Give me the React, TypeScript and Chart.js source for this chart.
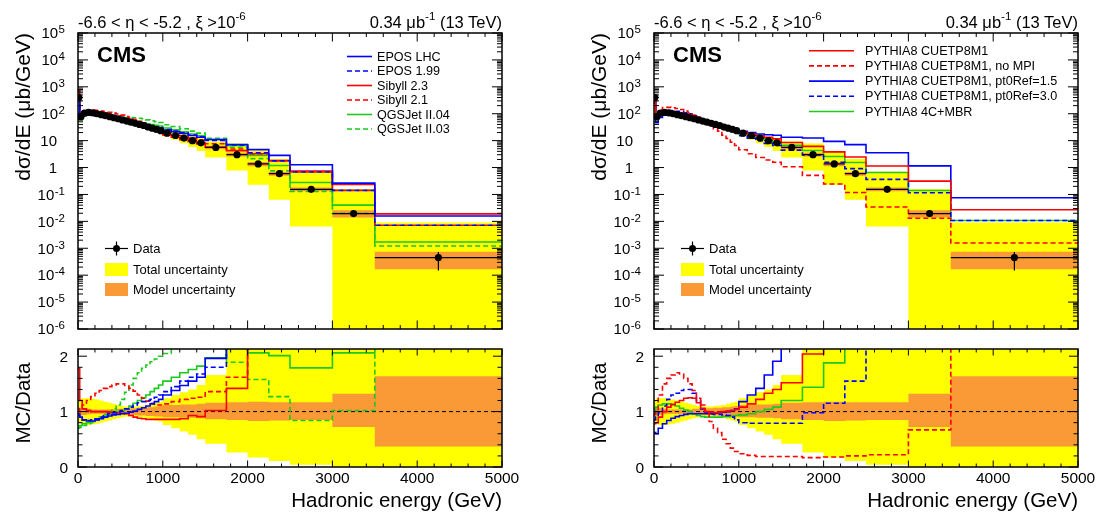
import React, { useEffect, useRef } from "react";
import { Chart, registerables } from "chart.js";

Chart.register(...registerables);

// ---------------- data ----------------
const binEdges = [0, 20, 50, 100, 150, 200, 250, 300, 350, 400, 450, 500, 550, 600, 650, 700, 750, 800, 850, 900, 950, 1000, 1100, 1200, 1300, 1400, 1500, 1750, 2000, 2250, 2500, 3000, 3500, 5000];

const dataValues = [400, 78, 105, 113, 108, 100, 92, 85, 78, 71, 65, 59, 53.5, 48.5, 44, 40, 36.5, 32, 29, 26, 23.5, 19, 15.5, 12.5, 10, 8.3, 5.6, 3.0, 1.36, 0.59, 0.155, 0.0195, 0.00045];
const dataStatDown = [0.05, 0.02, 0.02, 0.02, 0.02, 0.02, 0.02, 0.02, 0.02, 0.02, 0.02, 0.02, 0.02, 0.02, 0.02, 0.02, 0.02, 0.02, 0.02, 0.02, 0.02, 0.03, 0.03, 0.03, 0.04, 0.04, 0.05, 0.07, 0.09, 0.12, 0.15, 0.25, 0.67];
const dataStatUp = [0.05, 0.02, 0.02, 0.02, 0.02, 0.02, 0.02, 0.02, 0.02, 0.02, 0.02, 0.02, 0.02, 0.02, 0.02, 0.02, 0.02, 0.02, 0.02, 0.02, 0.02, 0.03, 0.03, 0.03, 0.04, 0.04, 0.05, 0.07, 0.09, 0.12, 0.15, 0.25, 0.62];

const totalUncLo = [0.8, 0.78, 0.76, 0.76, 0.77, 0.78, 0.8, 0.82, 0.84, 0.86, 0.88, 0.9, 0.91, 0.91, 0.91, 0.9, 0.89, 0.88, 0.86, 0.84, 0.82, 0.76, 0.7, 0.64, 0.58, 0.5, 0.42, 0.26, 0.17, 0.107, 0.042, 0.00001, 0.00001];
const totalUncHi = [1.2, 1.23, 1.24, 1.24, 1.23, 1.22, 1.2, 1.18, 1.16, 1.14, 1.12, 1.1, 1.09, 1.09, 1.09, 1.1, 1.11, 1.12, 1.14, 1.16, 1.18, 1.24, 1.3, 1.35, 1.4, 1.48, 1.66, 2.6, 3.0, 3.5, 4.5, 8, 20];
const modelUncLo = [0.92, 0.93, 0.94, 0.95, 0.96, 0.96, 0.96, 0.96, 0.96, 0.96, 0.95, 0.95, 0.95, 0.94, 0.94, 0.93, 0.93, 0.92, 0.92, 0.91, 0.91, 0.9, 0.9, 0.89, 0.89, 0.88, 0.86, 0.85, 0.83, 0.84, 0.85, 0.72, 0.37];
const modelUncHi = [1.08, 1.07, 1.06, 1.05, 1.04, 1.04, 1.04, 1.04, 1.04, 1.04, 1.05, 1.05, 1.05, 1.06, 1.06, 1.07, 1.07, 1.08, 1.08, 1.09, 1.1, 1.12, 1.12, 1.13, 1.13, 1.14, 1.16, 1.17, 1.18, 1.17, 1.17, 1.32, 1.64];

// MC / Data ratios (left panel)
const eposLhcRatio = [0.95, 0.9, 0.85, 0.83, 0.83, 0.85, 0.87, 0.9, 0.92, 0.94, 0.95, 0.96, 0.97, 0.99, 1.01, 1.04, 1.07, 1.1, 1.14, 1.18, 1.22, 1.3, 1.38, 1.47, 1.55, 1.62, 1.96, 2.4, 3.4, 4.8, 8.2, 13.5, 35];
const epos199Ratio = [0.95, 0.88, 0.85, 0.84, 0.85, 0.87, 0.9, 0.93, 0.96, 0.98, 1.0, 1.02, 1.05, 1.08, 1.12, 1.16, 1.18, 1.2, 1.22, 1.26, 1.3, 1.36, 1.45, 1.55, 1.62, 1.68, 1.8, 2.3, 2.6, 3.0, 4.4, 7.3, 16];
const sibyll23Ratio = [1.78, 1.2, 1.05, 1.02, 1.0, 1.0, 1.0, 1.0, 0.99, 0.98, 0.98, 0.97, 0.96, 0.93, 0.9, 0.88, 0.87, 0.86, 0.86, 0.86, 0.86, 0.86, 0.86, 0.87, 0.93, 0.91, 1.02, 1.42, 2.4, 3.1, 4.8, 12, 42];
const sibyll21Ratio = [1.0, 1.05, 1.12, 1.2, 1.27, 1.33, 1.38, 1.42, 1.45, 1.48, 1.5, 1.5, 1.47, 1.42, 1.37, 1.3, 1.24, 1.19, 1.15, 1.12, 1.12, 1.14, 1.18, 1.22, 1.24, 1.26, 1.36, 1.62, 2.4, 3.0, 4.4, 7.3, 16];
const qgsjet04Ratio = [0.72, 0.75, 0.78, 0.8, 0.82, 0.85, 0.88, 0.92, 0.95, 0.98, 1.0, 1.02, 1.05, 1.1, 1.15, 1.2, 1.25, 1.3, 1.36, 1.42, 1.48, 1.55, 1.62, 1.7, 1.76, 1.82, 1.97, 2.2, 2.06, 2.01, 1.79, 2.06, 3.8];
const qgsjet03Ratio = [0.7, 0.72, 0.75, 0.78, 0.8, 0.85, 0.9, 0.95, 1.0, 1.05, 1.12, 1.22, 1.35, 1.48, 1.6, 1.7, 1.78, 1.84, 1.9, 1.95, 2.0, 2.05, 2.15, 2.2, 2.25, 2.3, 2.2, 1.89, 1.58, 1.27, 0.84, 1.02, 2.7];

// MC / Data ratios (right panel)
const cuetp8m1Ratio = [0.78, 0.8, 0.9, 1.0, 1.08, 1.13, 1.17, 1.2, 1.24, 1.25, 1.24, 1.16, 1.06, 1.0, 0.99, 0.98, 0.99, 1.0, 1.01, 1.02, 1.04, 1.08, 1.14, 1.22, 1.33, 1.4, 1.52, 2.04, 2.8, 4.2, 7.4, 16, 60];
const noMpiRatio = [0.95, 1.0, 1.3, 1.5, 1.6, 1.66, 1.7, 1.68, 1.6, 1.5, 1.38, 1.24, 1.12, 1.0, 0.82, 0.7, 0.62, 0.5, 0.42, 0.34, 0.28, 0.24, 0.21, 0.19, 0.19, 0.19, 0.19, 0.17, 0.18, 0.2, 0.22, 0.67, 3.5];
const pt0Ref15Ratio = [0.62, 0.6, 0.7, 0.78, 0.84, 0.88, 0.91, 0.93, 0.95, 0.96, 0.96, 0.96, 0.96, 0.96, 0.96, 0.97, 0.98, 0.99, 1.0, 1.02, 1.05, 1.18, 1.3, 1.42, 1.66, 1.91, 2.4, 4.2, 6.9, 12, 23, 59, 167];
const pt0Ref30Ratio = [0.85, 0.9, 0.98, 1.1, 1.22, 1.3, 1.33, 1.38, 1.4, 1.4, 1.33, 1.2, 1.05, 0.99, 0.96, 0.95, 0.95, 0.94, 0.93, 0.9, 0.85, 0.8, 0.79, 0.79, 0.79, 0.79, 0.79, 0.98, 1.15, 1.55, 2.35, 5.9, 24];
const mbrRatio = [1.0, 1.08, 1.12, 1.14, 1.14, 1.12, 1.1, 1.06, 1.03, 1.0, 0.96, 0.93, 0.91, 0.9, 0.9, 0.9, 0.9, 0.91, 0.91, 0.92, 0.93, 0.94, 0.96, 1.0, 1.04, 1.08, 1.2, 1.44, 1.88, 2.6, 4.2, 7.2, 24];

// tick labels
const logTickExponents = [-6, -5, -4, -3, -2, -1, 0, 1, 2, 3, 4, 5];
const ratioTickLabels = [0, 1, 2];
const energyTickLabels = [0, 1000, 2000, 3000, 4000, 5000];

// ---------------- styles ----------------
const FONT = '"Liberation Sans", Arial, Helvetica, sans-serif';
const BLUE = "#0000ff";
const RED = "#ff0000";
const GREEN = "#1ec81e";
const YELLOW = "#ffff00";
const ORANGE = "#fa9a36";

type Model = { label: string; color: string; dashed: boolean; ratio: number[] };

const leftModels: Model[] = [
  { label: "EPOS LHC", color: BLUE, dashed: false, ratio: eposLhcRatio },
  { label: "EPOS 1.99", color: BLUE, dashed: true, ratio: epos199Ratio },
  { label: "Sibyll 2.3", color: RED, dashed: false, ratio: sibyll23Ratio },
  { label: "Sibyll 2.1", color: RED, dashed: true, ratio: sibyll21Ratio },
  { label: "QGSJet II.04", color: GREEN, dashed: false, ratio: qgsjet04Ratio },
  { label: "QGSJet II.03", color: GREEN, dashed: true, ratio: qgsjet03Ratio },
];
const rightModels: Model[] = [
  { label: "PYTHIA8 CUETP8M1", color: RED, dashed: false, ratio: cuetp8m1Ratio },
  { label: "PYTHIA8 CUETP8M1, no MPI", color: RED, dashed: true, ratio: noMpiRatio },
  { label: "PYTHIA8 CUETP8M1, pt0Ref=1.5", color: BLUE, dashed: false, ratio: pt0Ref15Ratio },
  { label: "PYTHIA8 CUETP8M1, pt0Ref=3.0", color: BLUE, dashed: true, ratio: pt0Ref30Ratio },
  { label: "PYTHIA8 4C+MBR", color: GREEN, dashed: false, ratio: mbrRatio },
];

const SIDES = [
  { canvasLeft: 0, width: 550, padLeft: 78, padRight: 48, ox: 0, models: leftModels, leg: { x0: 347, x1: 372, tx: 377, row0: 56.5, step: 14.5 } },
  { canvasLeft: 550, width: 549, padLeft: 104, padRight: 21, ox: 576, models: rightModels, leg: { x0: 809, x1: 854, tx: 865, row0: 50.7, step: 15.2 } },
];
const TOP_H = 340;
const BOT_TOP = 340;
const BOT_H = 173;

function stepPoints(values: number[]) {
  const pts: { x: number; y: number }[] = [];
  for (let i = 0; i < values.length; i++) {
    pts.push({ x: binEdges[i], y: values[i] });
    pts.push({ x: binEdges[i + 1], y: values[i] });
  }
  return pts;
}

function makeFramePlugin(mode: "top" | "bottom") {
  const base = (i: number) => (mode === "top" ? dataValues[i] : 1);
  return {
    id: "rootFrame" + mode,
    beforeDatasetsDraw(chart: any) {
      const { ctx, chartArea: a } = chart;
      const xs = chart.scales.x;
      const ys = chart.scales.y;
      const clampY = (p: number) => Math.max(a.top - 5, Math.min(a.bottom + 5, p));
      ctx.save();
      ctx.beginPath();
      ctx.rect(a.left, a.top, a.right - a.left, a.bottom - a.top);
      ctx.clip();
      const band = (lo: number[], hi: number[], color: string) => {
        ctx.beginPath();
        const n = lo.length;
        for (let i = 0; i < n; i++) {
          const x0 = xs.getPixelForValue(binEdges[i]);
          const x1 = xs.getPixelForValue(binEdges[i + 1]);
          const yh = clampY(ys.getPixelForValue(base(i) * hi[i]));
          if (i === 0) ctx.moveTo(x0, yh);
          else ctx.lineTo(x0, yh);
          ctx.lineTo(x1, yh);
        }
        for (let i = n - 1; i >= 0; i--) {
          const x0 = xs.getPixelForValue(binEdges[i]);
          const x1 = xs.getPixelForValue(binEdges[i + 1]);
          const yl = clampY(ys.getPixelForValue(base(i) * lo[i]));
          ctx.lineTo(x1, yl);
          ctx.lineTo(x0, yl);
        }
        ctx.closePath();
        ctx.fillStyle = color;
        ctx.fill();
      };
      band(totalUncLo, totalUncHi, YELLOW);
      band(modelUncLo, modelUncHi, ORANGE);
      if (mode === "bottom") {
        const py = ys.getPixelForValue(1);
        ctx.strokeStyle = "#000";
        ctx.lineWidth = 1;
        ctx.setLineDash([4, 3]);
        ctx.beginPath();
        ctx.moveTo(a.left, py);
        ctx.lineTo(a.right, py);
        ctx.stroke();
      }
      ctx.restore();
    },
    afterDatasetsDraw(chart: any) {
      if (mode !== "top") return;
      const { ctx, chartArea: a } = chart;
      const xs = chart.scales.x;
      const ys = chart.scales.y;
      ctx.save();
      ctx.beginPath();
      ctx.rect(a.left, a.top, a.right - a.left, a.bottom - a.top);
      ctx.clip();
      ctx.strokeStyle = "#000";
      ctx.lineWidth = 1.2;
      for (let i = 0; i < dataValues.length; i++) {
        const v = dataValues[i];
        const py = ys.getPixelForValue(v);
        const x0 = xs.getPixelForValue(binEdges[i]);
        const x1 = xs.getPixelForValue(binEdges[i + 1]);
        const xc = (x0 + x1) / 2;
        ctx.beginPath();
        ctx.moveTo(x0, py);
        ctx.lineTo(x1, py);
        ctx.moveTo(xc, ys.getPixelForValue(v * (1 - dataStatDown[i])));
        ctx.lineTo(xc, ys.getPixelForValue(v * (1 + dataStatUp[i])));
        ctx.stroke();
      }
      ctx.restore();
    },
    afterDraw(chart: any) {
      const { ctx, chartArea: a } = chart;
      const xs = chart.scales.x;
      const ys = chart.scales.y;
      ctx.save();
      ctx.strokeStyle = "#000";
      ctx.lineWidth = 1;
      const line = (x0: number, y0: number, x1: number, y1: number) => {
        ctx.beginPath();
        ctx.moveTo(x0, y0);
        ctx.lineTo(x1, y1);
        ctx.stroke();
      };
      // x ticks (bottom and top edges)
      const xMaj = mode === "top" ? 8.5 : 6.5;
      const xMin = mode === "top" ? 4 : 3.5;
      for (let v = 0; v <= 5000; v += 200) {
        const px = xs.getPixelForValue(v);
        const len = v % 1000 === 0 ? xMaj : xMin;
        line(px, a.bottom, px, a.bottom - len);
        line(px, a.top, px, a.top + len);
      }
      // y ticks
      if (mode === "top") {
        for (const n of logTickExponents) {
          for (let k = 1; k <= 9; k++) {
            const v = k * Math.pow(10, n);
            if (v > 1e5 * 1.0001) break;
            const py = ys.getPixelForValue(v);
            const len = k === 1 ? 10 : 5;
            line(a.left, py, a.left + len, py);
            line(a.right, py, a.right - len, py);
          }
        }
      } else {
        for (let j = 0; j <= 10; j++) {
          const v = j * 0.2;
          const py = ys.getPixelForValue(v);
          const len = j % 5 === 0 ? 9 : 4.5;
          line(a.left, py, a.left + len, py);
          line(a.right, py, a.right - len, py);
        }
      }
      // frame
      ctx.lineWidth = 1.5;
      ctx.strokeRect(a.left, a.top, a.right - a.left, a.bottom - a.top);
      // labels
      ctx.fillStyle = "#000";
      ctx.textBaseline = "alphabetic";
      if (mode === "top") {
        for (const n of logTickExponents) {
          const py = ys.getPixelForValue(Math.pow(10, n));
          if (n === 0 || n === 1) {
            ctx.font = `15px ${FONT}`;
            ctx.textAlign = "right";
            ctx.fillText(n === 0 ? "1" : "10", a.left - 21, py + 5.3);
          } else {
            const e = String(n);
            ctx.font = `11.5px ${FONT}`;
            const we = ctx.measureText(e).width;
            const xr = a.left - 13;
            ctx.textAlign = "left";
            ctx.fillText(e, xr - we, py + 0.3);
            ctx.font = `15px ${FONT}`;
            ctx.textAlign = "right";
            ctx.fillText("10", xr - we - 0.5, py + 5.3);
          }
        }
      } else {
        ctx.font = `15.5px ${FONT}`;
        ctx.textAlign = "right";
        for (const v of ratioTickLabels) {
          const py = ys.getPixelForValue(v);
          ctx.fillText(String(v), a.left - 10, py + 5.5);
        }
        ctx.textAlign = "center";
        for (const v of energyTickLabels) {
          const px = xs.getPixelForValue(v);
          ctx.fillText(String(v), px, a.bottom + 16);
        }
      }
      ctx.restore();
    },
  };
}

const centers = dataValues.map((_, i) => (binEdges[i] + binEdges[i + 1]) / 2);

function topConfig(side: (typeof SIDES)[number]): any {
  const datasets: any[] = [
    {
      label: "Data",
      data: dataValues.map((v, i) => ({ x: centers[i], y: v })),
      showLine: false,
      pointRadius: 3.6,
      pointHoverRadius: 3.6,
      pointBackgroundColor: "#000",
      pointBorderColor: "#000",
      pointBorderWidth: 0,
      order: 0,
    },
    ...side.models.map((m, k) => ({
      label: m.label,
      data: stepPoints(dataValues.map((d, i) => d * m.ratio[i])),
      borderColor: m.color,
      borderWidth: 1.6,
      borderDash: m.dashed ? [5, 3] : [],
      pointRadius: 0,
      fill: false,
      tension: 0,
      order: 1 + k,
    })),
  ];
  return {
    type: "line",
    data: { datasets },
    options: {
      animation: false,
      responsive: false,
      events: [],
      layout: { padding: { left: side.padLeft, right: side.padRight, top: 33, bottom: 11 } },
      plugins: { legend: { display: false }, tooltip: { enabled: false } },
      scales: {
        x: { type: "linear", min: 0, max: 5000, display: false },
        y: { type: "logarithmic", min: 1e-6, max: 1e5, display: false },
      },
    },
    plugins: [makeFramePlugin("top")],
  };
}

function bottomConfig(side: (typeof SIDES)[number]): any {
  const datasets = side.models.map((m, k) => ({
    label: m.label,
    data: stepPoints(m.ratio),
    borderColor: m.color,
    borderWidth: 1.6,
    borderDash: m.dashed ? [5, 3] : [],
    pointRadius: 0,
    fill: false,
    tension: 0,
    order: 1 + k,
  }));
  return {
    type: "line",
    data: { datasets },
    options: {
      animation: false,
      responsive: false,
      events: [],
      layout: { padding: { left: side.padLeft, right: side.padRight, top: 9, bottom: 46 } },
      plugins: { legend: { display: false }, tooltip: { enabled: false } },
      scales: {
        x: { type: "linear", min: 0, max: 5000, display: false },
        y: { type: "linear", min: 0, max: 2.13, display: false },
      },
    },
    plugins: [makeFramePlugin("bottom")],
  };
}

// ---------------- overlay text helpers ----------------
function Txt(props: { x: number; yc: number; size: number; children: any; right?: boolean; bold?: boolean }) {
  const L = Math.round(props.size * 1.25);
  const style: React.CSSProperties = {
    position: "absolute",
    top: props.yc - L / 2,
    fontSize: props.size,
    lineHeight: L + "px",
    fontFamily: FONT,
    whiteSpace: "nowrap",
    fontWeight: props.bold ? "bold" : "normal",
    color: "#000",
  };
  if (props.right) {
    style.left = props.x - 400;
    style.width = 400;
    style.textAlign = "right";
  } else {
    style.left = props.x;
  }
  return <div style={style}>{props.children}</div>;
}

function Sup(props: { children: any }) {
  return <span style={{ fontSize: "0.7em", position: "relative", top: "-0.68em" }}>{props.children}</span>;
}

function RotTitle(props: { x: number; anchorY: number; text: string; align: "end" | "center"; size: number }) {
  const W = 300;
  const L = 24;
  const top = props.align === "end" ? props.anchorY + W : props.anchorY + W / 2;
  return (
    <div
      style={{
        position: "absolute",
        left: props.x - L / 2,
        top,
        width: W,
        height: L,
        lineHeight: L + "px",
        fontSize: props.size,
        fontFamily: FONT,
        whiteSpace: "nowrap",
        textAlign: props.align === "end" ? "right" : "center",
        transform: "rotate(-90deg)",
        transformOrigin: "left top",
        color: "#000",
      }}
    >
      {props.text}
    </div>
  );
}

export default function App() {
  const refs = [useRef<HTMLCanvasElement>(null), useRef<HTMLCanvasElement>(null), useRef<HTMLCanvasElement>(null), useRef<HTMLCanvasElement>(null)];

  useEffect(() => {
    const charts = [
      new Chart(refs[0].current as HTMLCanvasElement, topConfig(SIDES[0])),
      new Chart(refs[1].current as HTMLCanvasElement, bottomConfig(SIDES[0])),
      new Chart(refs[2].current as HTMLCanvasElement, topConfig(SIDES[1])),
      new Chart(refs[3].current as HTMLCanvasElement, bottomConfig(SIDES[1])),
    ];
    return () => charts.forEach((c) => c.destroy());
  }, []);

  return (
    <div style={{ position: "absolute", left: 0, top: 0, width: 1099, height: 513, background: "#fff", overflow: "hidden" }}>
      {SIDES.map((s, si) => (
        <React.Fragment key={"c" + si}>
          <canvas
            ref={refs[si * 2]}
            width={s.width}
            height={TOP_H}
            style={{ position: "absolute", left: s.canvasLeft, top: 0, width: s.width, height: TOP_H }}
          />
          <canvas
            ref={refs[si * 2 + 1]}
            width={s.width}
            height={BOT_H}
            style={{ position: "absolute", left: s.canvasLeft, top: BOT_TOP, width: s.width, height: BOT_H }}
          />
        </React.Fragment>
      ))}

      {SIDES.map((s, si) => {
        const ox = s.ox;
        return (
          <React.Fragment key={"t" + si}>
            <Txt x={ox + 78} yc={22} size={16.5}>
              {"-6.6 < η < -5.2 , ξ >10"}
              <Sup>-6</Sup>
            </Txt>
            <Txt x={ox + 502} yc={22} size={16.5} right>
              {"0.34 μb"}
              <Sup>-1</Sup>
              {" (13 TeV)"}
            </Txt>
            <Txt x={ox + 97} yc={54.5} size={22} bold>
              CMS
            </Txt>
            <RotTitle x={ox + 23} anchorY={33} text="dσ/dE (μb/GeV)" align="end" size={21} />
            <RotTitle x={ox + 23} anchorY={403} text="MC/Data" align="center" size={20.5} />
            <Txt x={ox + 502} yc={500} size={20.5} right>
              Hadronic energy (GeV)
            </Txt>
            {s.models.map((m, k) => (
              <Txt key={m.label} x={s.leg.tx} yc={s.leg.row0 + k * s.leg.step} size={12.6}>
                {m.label}
              </Txt>
            ))}
            <Txt x={ox + 133} yc={248.5} size={13}>
              Data
            </Txt>
            <Txt x={ox + 133} yc={269.5} size={13}>
              Total uncertainty
            </Txt>
            <Txt x={ox + 133} yc={289.5} size={13}>
              Model uncertainty
            </Txt>
          </React.Fragment>
        );
      })}

      <svg width={1099} height={513} style={{ position: "absolute", left: 0, top: 0, pointerEvents: "none" }}>
        {SIDES.map((s, si) => {
          const ox = s.ox;
          return (
            <g key={"g" + si}>
              {s.models.map((m, k) => (
                <line
                  key={m.label}
                  x1={s.leg.x0}
                  x2={s.leg.x1}
                  y1={s.leg.row0 + k * s.leg.step}
                  y2={s.leg.row0 + k * s.leg.step}
                  stroke={m.color}
                  strokeWidth={1.6}
                  strokeDasharray={m.dashed ? "5 3" : undefined}
                />
              ))}
              <line x1={ox + 105} x2={ox + 128} y1={248.5} y2={248.5} stroke="#000" strokeWidth={1.2} />
              <line x1={ox + 116.5} x2={ox + 116.5} y1={241.5} y2={255.5} stroke="#000" strokeWidth={1.2} />
              <circle cx={ox + 116.5} cy={248.5} r={3.5} fill="#000" />
              <rect x={ox + 105} y={263} width={23} height={13} fill={YELLOW} />
              <rect x={ox + 105} y={283} width={23} height={13} fill={ORANGE} />
            </g>
          );
        })}
      </svg>
    </div>
  );
}
